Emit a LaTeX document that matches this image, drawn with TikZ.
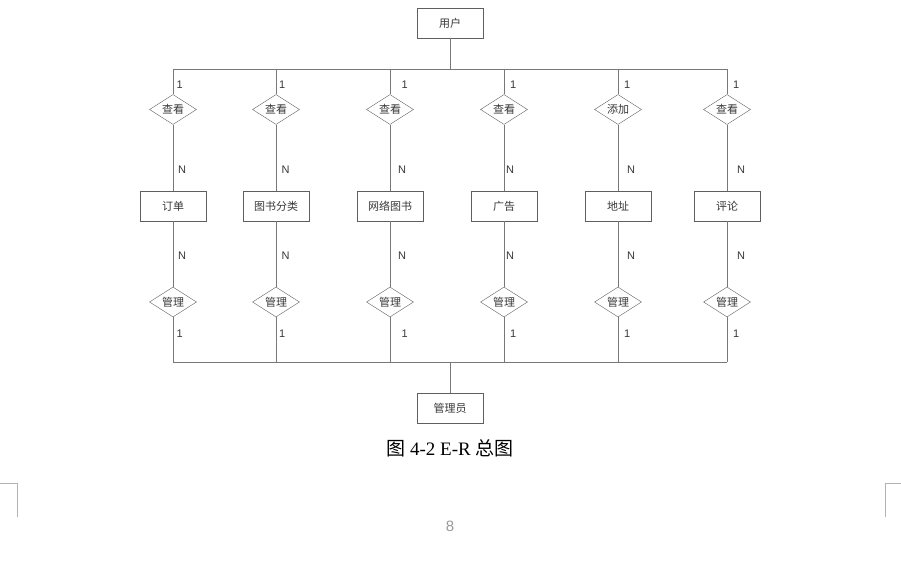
\documentclass[tikz,border=0pt]{standalone}
\usepackage{fontspec}
\setmainfont{Liberation Sans}
\newfontfamily\cjk{Noto Sans CJK SC}
\newfontfamily\capfont{Liberation Serif}
\usetikzlibrary{shapes.geometric}

\definecolor{linegray}{RGB}{120,120,120}
\definecolor{boxgray}{RGB}{95,95,95}
\definecolor{txtgray}{RGB}{55,55,55}

\tikzset{
  entity/.style={draw=boxgray, minimum width=66pt, minimum height=30pt, inner sep=0pt,
    text=txtgray, font=\cjk\fontsize{11}{13}\selectfont},
  relation/.style={draw=boxgray, diamond, aspect=1.57, minimum width=47pt, minimum height=30pt,
    inner sep=0pt, text=txtgray, font=\cjk\fontsize{11}{13}\selectfont},
  card/.style={anchor=west, inner sep=0pt, text=txtgray, font=\fontsize{11}{13}\selectfont},
  link/.style={draw=linegray, line width=0.9pt}
}

\begin{document}
\begin{tikzpicture}[x=1pt,y=-1pt]
  \useasboundingbox (0,0) rectangle (901,577);
  \node[entity] (user) at (450,23) {用户};
  \node[entity] (admin) at (450,408) {管理员};
  \coordinate (ubus) at (450,69);
  \coordinate (abus) at (450,362);
  \draw[link] (user) -- (ubus);
  \draw[link] (admin) -- (abus);
  % one column for each entity
  \foreach \x/\one/\many/\rel/\ent [count=\i] in {173/3.5/5/查看/订单, 276/3/5.5/查看/图书分类,
      390/11.5/8/查看/网络图书, 504/6/2/查看/广告, 618/6/9/添加/地址, 727/6/10/查看/评论} {
    \coordinate (t\i) at (\x,69);
    \coordinate (b\i) at (\x,362);
    \node[relation] (r\i) at (\x,109.5) {\rel};
    \node[entity] (e\i) at (\x,206) {\ent};
    \node[relation] (m\i) at (\x,302) {管理};
    \draw[link] (t\i) -- (r\i) -- (e\i) -- (m\i) -- (b\i);
    \node[card] (ra\i) at (\x+\one,84.5) {1};
    \node[card] (rb\i) at (\x+\many,170) {N};
    \node[card] (ma\i) at (\x+\many,256) {N};
    \node[card] (mb\i) at (\x+\one,334) {1};
  }
  \draw[link] (t1) -- (t6);
  \draw[link] (b1) -- (b6);
  \node[font=\capfont\fontsize{19}{21}\selectfont] (caption) at (450,448)
    {{\cjk 图} 4-2 E-R {\cjk 总图}};
  % page marks
  \node[text=gray!80, font=\fontsize{15}{17}\selectfont] (page) at (450,526) {8};
  \draw[gray!60, line width=0.6pt] (0,483) -- (17,483) -- (17,517);
  \draw[gray!60, line width=0.6pt] (901,483) -- (885,483) -- (885,517);
\end{tikzpicture}
\end{document}
